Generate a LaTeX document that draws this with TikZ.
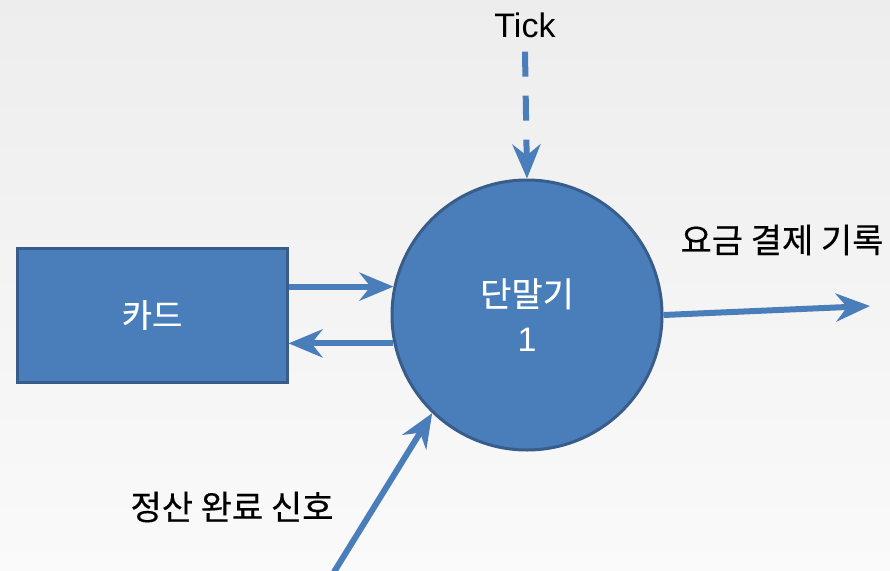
\documentclass[tikz,border=0pt]{standalone}
\usepackage{fontspec}
\setmainfont{Liberation Sans}
\newfontfamily\kr[FakeBold=0.4]{Noto Sans CJK KR}
\usetikzlibrary{arrows.meta}
\definecolor{fillblue}{HTML}{4A7EBB}
\definecolor{edgeblue}{HTML}{385D8A}
\definecolor{arrowblue}{HTML}{4A7EBB}
\tikzset{
  procbox/.style={draw=edgeblue, line width=3pt, fill=fillblue, text=white,
    minimum width=270pt, minimum height=134pt, inner sep=0pt,
    font=\fontsize{33}{40}\selectfont\kr},
  proccircle/.style={circle, draw=edgeblue, line width=3pt, fill=fillblue, text=white,
    minimum size=270pt, inner sep=0pt, align=center,
    font=\fontsize{34}{45}\selectfont},
  flow/.style={draw=arrowblue, line width=6pt,
    -{Stealth[length=34pt,width=28pt,inset=11pt]}},
  lbl/.style={inner sep=0pt, text=black, font=\fontsize{34}{40}\selectfont}
}
\begin{document}
\begin{tikzpicture}[x=1pt,y=-1pt]
\shade[top color=black!7, bottom color=black!2] (0,0) rectangle (890,570);
\useasboundingbox (0,0) rectangle (890,570);

\node[procbox] (card) at (152,315) {카드};
\node[proccircle] (term) at (527,315) {{\kr 단말기}\\1};

\node[lbl] (tick) at (525,25) {Tick};
\node[lbl] (fee) at (782,240) {\kr 요금 결제 기록};
\node[lbl] (done) at (232,507) {\kr 정산 완료 신호};

\coordinate (outend) at (870,306);
\coordinate (instart) at (334,572);

\draw[flow] (card.east |- term.168) -- (term.168);
\draw[flow] (term.192) -- (card.east |- term.192);
\draw[flow, dash pattern=on 25pt off 19pt] ([yshift=-14pt]tick.south) -- (term.north);
\draw[flow] (term.east) -- (outend);
\draw[flow] (instart) -- (term.226);
\end{tikzpicture}
\end{document}
